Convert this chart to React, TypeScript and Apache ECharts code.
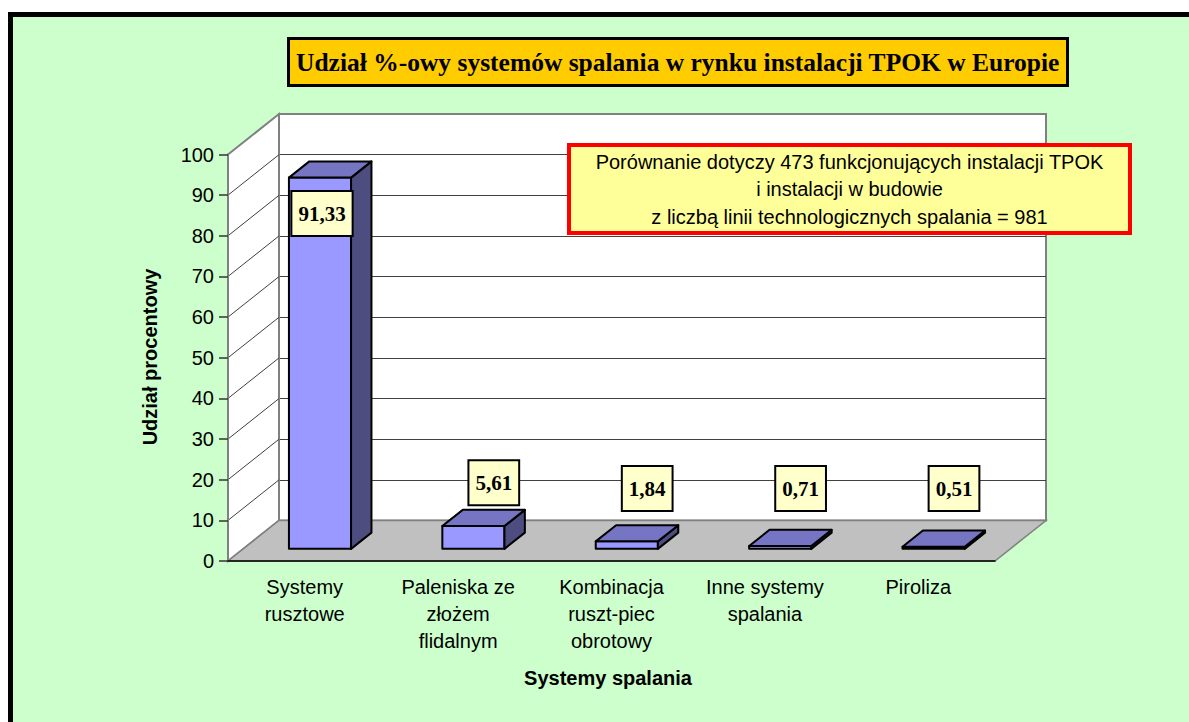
import React, { useEffect, useRef } from 'react';
import * as echarts from 'echarts';

const categories = [
  'Systemy\nrusztowe',
  'Paleniska ze\nzłożem\nflidalnym',
  'Kombinacja\nruszt-piec\nobrotowy',
  'Inne systemy\nspalania',
  'Piroliza',
];
const shares = [91.33, 5.61, 1.84, 0.71, 0.51];
const yTicks = [0, 10, 20, 30, 40, 50, 60, 70, 80, 90, 100];
const titleText = 'Udział %-owy systemów spalania w rynku instalacji TPOK w Europie';
const noteLines = [
  'Porównanie dotyczy 473 funkcjonujących instalacji TPOK',
  'i instalacji w budowie',
  'z liczbą linii technologicznych spalania = 981',
];
const xAxisTitle = 'Systemy spalania';
const yAxisTitle = 'Udział procentowy';

const SANS = '"Liberation Sans", Arial, sans-serif';
const SERIF = '"Liberation Serif", "Times New Roman", serif';
const DX = 51;
const DY = -40.5;
const FRONT = 0.3;
const DEPTH = 0.4;

export default function App() {
  const ref = useRef<HTMLDivElement>(null);
  useEffect(() => {
    const chart = echarts.init(ref.current as HTMLDivElement, null, { renderer: 'svg' });
    const yMin = yTicks[0];
    const yMax = yTicks[yTicks.length - 1];
    const option: any = {
      animation: false,
      backgroundColor: 'transparent',
      title: {
        text: titleText,
        left: 288,
        top: 38,
        padding: [11, 8],
        backgroundColor: '#FFCC00',
        borderColor: '#000',
        borderWidth: 3,
        textStyle: { fontFamily: SERIF, fontWeight: 'bold', fontSize: 25.5, color: '#000', lineHeight: 26 },
      },
      grid: [
        { left: 228, top: 154.5, width: 767, height: 406.5 },
        { left: 279, top: 114, width: 767, height: 406.5, show: true, backgroundColor: '#fff', borderColor: '#808080', borderWidth: 2 },
      ],
      xAxis: [
        {
          gridIndex: 0,
          type: 'category',
          data: categories,
          z: 10,
          axisLine: { lineStyle: { color: '#000', width: 1.5 } },
          axisTick: { length: 8, lineStyle: { color: '#555', width: 1.5 } },
          axisLabel: { fontFamily: SANS, fontSize: 20, color: '#000', lineHeight: 27, margin: 12, interval: 0 },
          splitLine: { show: false },
        },
        { gridIndex: 1, type: 'category', data: categories, show: false },
      ],
      yAxis: [
        {
          gridIndex: 0,
          type: 'value',
          min: yMin,
          max: yMax,
          interval: 10,
          z: 10,
          axisLine: { show: true, lineStyle: { color: '#808080', width: 2 } },
          axisTick: { show: true, length: 9, lineStyle: { color: '#333', width: 1.5 } },
          axisLabel: { fontFamily: SANS, fontSize: 20, color: '#000', margin: 14 },
          splitLine: { show: false },
        },
        {
          gridIndex: 1,
          type: 'value',
          min: yMin,
          max: yMax,
          interval: 10,
          axisLine: { show: false },
          axisTick: { show: false },
          axisLabel: { show: false },
          splitLine: { show: true, showMinLine: false, showMaxLine: false, lineStyle: { color: '#404040', width: 1 } },
        },
      ],
      series: [
        {
          type: 'custom',
          xAxisIndex: 0,
          yAxisIndex: 0,
          z: 1,
          silent: true,
          clip: false,
          data: [[0, 0]],
          renderItem: (params: any) => {
            const cs = params.coordSys;
            const gx = cs.x, gy = cs.y, gw = cs.width, gh = cs.height;
            return {
              type: 'group',
              children: [
                {
                  type: 'polygon',
                  shape: { points: [[gx, gy], [gx + DX, gy + DY], [gx + DX, gy + gh + DY], [gx, gy + gh]] },
                  style: { fill: '#fff', stroke: '#808080', lineWidth: 2 },
                },
                {
                  type: 'polygon',
                  shape: { points: [[gx, gy + gh], [gx + DX, gy + gh + DY], [gx + gw + DX, gy + gh + DY], [gx + gw, gy + gh]] },
                  style: { fill: '#C0C0C0', stroke: '#808080', lineWidth: 1.5 },
                },
              ],
            };
          },
        },
        {
          type: 'custom',
          xAxisIndex: 0,
          yAxisIndex: 0,
          z: 2,
          silent: true,
          clip: false,
          data: yTicks.map((v) => [0, v]),
          renderItem: (params: any, api: any) => {
            const v = api.value(1);
            if (v <= yMin || v >= yMax) return { type: 'group', children: [] };
            const cs = params.coordSys;
            const y = api.coord([0, v])[1];
            return {
              type: 'line',
              shape: { x1: cs.x, y1: y, x2: cs.x + DX, y2: y + DY },
              style: { stroke: '#404040', lineWidth: 1 },
            };
          },
        },
        {
          type: 'custom',
          xAxisIndex: 0,
          yAxisIndex: 0,
          z: 3,
          clip: false,
          data: shares.map((v, i) => [i, v]),
          renderItem: (params: any, api: any) => {
            const i = api.value(0);
            const v = api.value(1);
            const top = api.coord([i, v]);
            const base = api.coord([i, 0]);
            const bw = api.size([1, 0])[0] * 0.405;
            const fx = FRONT * DX, fy = FRONT * DY;
            const dx = DEPTH * DX, dy = DEPTH * DY;
            const x0 = top[0] + fx - bw / 2;
            const x1 = x0 + bw;
            const yb = base[1] + fy;
            const yt = top[1] + fy;
            const st = { stroke: '#000', lineWidth: 2, lineJoin: 'round' };
            return {
              type: 'group',
              children: [
                { type: 'rect', shape: { x: x0, y: yt, width: bw, height: yb - yt }, style: { ...st, fill: '#9999FF' } },
                { type: 'polygon', shape: { points: [[x1, yt], [x1 + dx, yt + dy], [x1 + dx, yb + dy], [x1, yb]] }, style: { ...st, fill: '#4D4D80' } },
                { type: 'polygon', shape: { points: [[x0, yt], [x1, yt], [x1 + dx, yt + dy], [x0 + dx, yt + dy]] }, style: { ...st, fill: '#7575C4' } },
              ],
            };
          },
        },
        {
          type: 'custom',
          xAxisIndex: 0,
          yAxisIndex: 0,
          z: 4,
          clip: false,
          data: shares.map((v, i) => [i, v]),
          renderItem: (params: any, api: any) => {
            const i = api.value(0);
            const v = api.value(1);
            const top = api.coord([i, v]);
            const base = api.coord([i, 0]);
            const fx = FRONT * DX, fy = FRONT * DY;
            const dx = DEPTH * DX, dy = DEPTH * DY;
            const cx = top[0] + fx;
            const yt = top[1] + fy;
            let lx, ly;
            if (v > 80) {
              lx = cx + 2;
              ly = yt + 36;
            } else {
              lx = cx + dx;
              ly = Math.min(yt + dy - 27, base[1] + DY - 32);
            }
            return {
              type: 'text',
              x: lx,
              y: ly,
              style: {
                text: v.toFixed(2).replace('.', ','),
                fill: '#000',
                fontFamily: SERIF,
                fontWeight: 'bold',
                fontSize: 21,
                lineHeight: 21,
                align: 'center',
                verticalAlign: 'middle',
                backgroundColor: '#FFFFCC',
                borderColor: '#000',
                borderWidth: 2,
                padding: [11, 6],
              },
            };
          },
        },
      ],
      graphic: [
        {
          type: 'rect',
          z: 100,
          shape: { x: 569, y: 145, width: 561, height: 88 },
          style: { fill: '#FFFF99', stroke: '#FF0000', lineWidth: 4 },
        },
        {
          type: 'text',
          z: 101,
          x: 849.5,
          y: 189,
          style: {
            text: noteLines.join('\n'),
            fill: '#000',
            fontFamily: SANS,
            fontSize: 20,
            lineHeight: 27.5,
            align: 'center',
            verticalAlign: 'middle',
          },
        },
        {
          type: 'text',
          z: 101,
          x: 150,
          y: 357,
          rotation: Math.PI / 2,
          style: {
            text: yAxisTitle,
            fill: '#000',
            fontFamily: SANS,
            fontWeight: 'bold',
            fontSize: 20,
            align: 'center',
            verticalAlign: 'middle',
          },
        },
        {
          type: 'text',
          z: 101,
          x: 608,
          y: 678,
          style: {
            text: xAxisTitle,
            fill: '#000',
            fontFamily: SANS,
            fontWeight: 'bold',
            fontSize: 20,
            align: 'center',
            verticalAlign: 'middle',
          },
        },
      ],
    };
    chart.setOption(option);
    return () => chart.dispose();
  }, []);
  return (
    <div style={{ position: 'absolute', left: 0, top: 0, width: 1189, height: 722, overflow: 'hidden', background: '#fff' }}>
      <div
        style={{
          position: 'absolute',
          left: 8,
          top: 12,
          width: 1400,
          height: 1000,
          border: '5px solid #000',
          background: '#CCFFCC',
          boxSizing: 'border-box',
        }}
      />
      <div ref={ref} style={{ position: 'absolute', left: 0, top: 0, width: 1189, height: 722 }} />
    </div>
  );
}
